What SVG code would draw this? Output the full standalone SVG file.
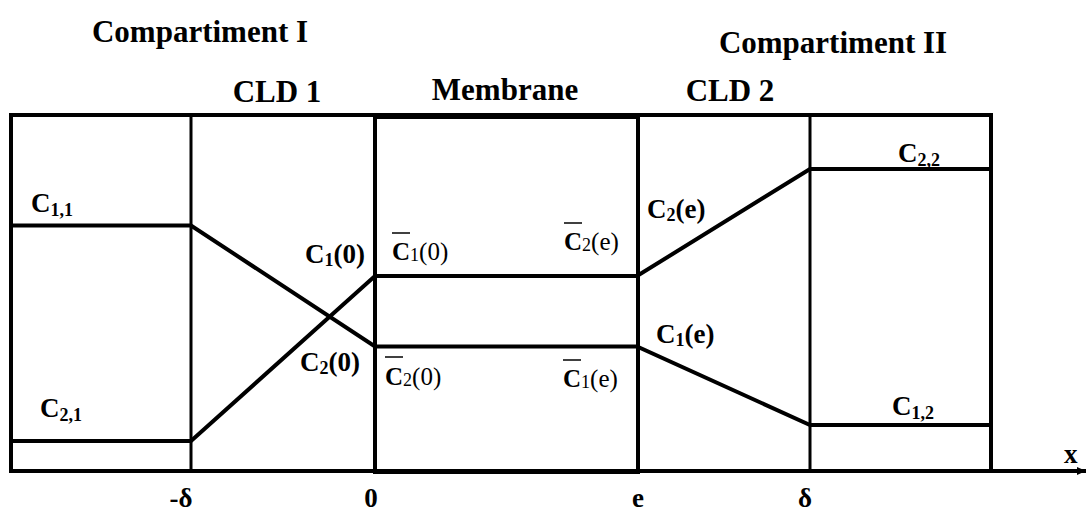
<svg xmlns="http://www.w3.org/2000/svg" width="1087" height="513" viewBox="0 0 1087 513">
<style>
  .frame{stroke:#000;stroke-width:4;fill:none;stroke-linecap:square}
  .thin{stroke:#000;stroke-width:3;fill:none}
  .conc{stroke:#000;stroke-width:4;fill:none;stroke-linecap:round}
  .hdr{font-family:"Liberation Serif","Times New Roman",serif;font-weight:bold;font-size:31px;fill:#000}
  .lb{font-family:"Liberation Serif","Times New Roman",serif;font-weight:bold;font-size:27px;fill:#000}
  .lr{font-family:"Liberation Serif","Times New Roman",serif;font-size:25px;fill:#000}
  .bar{stroke:#000;stroke-width:1.5}
</style>
<defs>
  <marker id="arr" markerWidth="10" markerHeight="10" refX="9" refY="5" orient="auto" markerUnits="userSpaceOnUse">
    <path d="M0,1 L9,5 L0,9 Z" fill="#000"/>
  </marker>
</defs>
<rect width="1087" height="513" fill="#fff"/>

<g id="headers">
  <text class="hdr" x="200" y="42" text-anchor="middle">Compartiment I</text>
  <text class="hdr" x="833" y="53" text-anchor="middle">Compartiment II</text>
  <text class="hdr" x="277" y="102" text-anchor="middle">CLD 1</text>
  <text class="hdr" x="505" y="100" text-anchor="middle">Membrane</text>
  <text class="hdr" x="730" y="101" text-anchor="middle">CLD 2</text>
</g>

<g id="frame">
  <line class="frame" x1="11" y1="115" x2="991" y2="115"/>
  <line class="frame" x1="11" y1="115" x2="11" y2="471"/>
  <line class="frame" x1="991" y1="115" x2="991" y2="471"/>
  <line class="thin" x1="191" y1="115" x2="191" y2="471"/>
  <line class="thin" x1="810" y1="115" x2="810" y2="469"/>
  <rect id="membrane" class="frame" x="375" y="117" width="263" height="355"/>
</g>

<g id="axis">
  <line x1="9" y1="471" x2="1086" y2="471" stroke="#000" stroke-width="4" marker-end="url(#arr)"/>
  <text class="lb" x="1064" y="463">x</text>
</g>

<g id="connectors">
  <polyline class="conc" points="11,225.5 191,225.5 375,346.5 637,346.5 810,425 991,425"/>
  <polyline class="conc" points="11,441 191,441 375,276 637,276 810,169 991,169"/>
</g>

<g id="labels-bulk">
  <text class="lb" x="31" y="212">C<tspan font-size="18" dy="4">1,1</tspan></text>
  <text class="lb" x="40" y="417">C<tspan font-size="18" dy="4">2,1</tspan></text>
  <text class="lb" x="898" y="162">C<tspan font-size="18" dy="4">2,2</tspan></text>
  <text class="lb" x="892" y="415">C<tspan font-size="18" dy="4">1,2</tspan></text>
</g>

<g id="labels-interface">
  <text class="lb" x="305" y="263">C<tspan font-size="18" dy="3">1</tspan><tspan dy="-3">(0)</tspan></text>
  <text class="lb" x="300" y="371">C<tspan font-size="18" dy="3">2</tspan><tspan dy="-3">(0)</tspan></text>
  <text class="lb" x="647" y="218">C<tspan font-size="18" dy="3">2</tspan><tspan dy="-3">(e)</tspan></text>
  <text class="lb" x="656" y="343">C<tspan font-size="18" dy="3">1</tspan><tspan dy="-3">(e)</tspan></text>
</g>

<g id="labels-membrane">
  <text class="lr" x="392" y="260"><tspan font-weight="bold">C</tspan><tspan font-size="18" dy="1">1</tspan><tspan dy="-1">(0)</tspan></text>
  <line class="bar" x1="392" y1="233" x2="410" y2="233"/>
  <text class="lr" x="564" y="250"><tspan font-weight="bold">C</tspan><tspan font-size="18" dy="1">2</tspan><tspan dy="-1">(e)</tspan></text>
  <line class="bar" x1="564" y1="223" x2="582" y2="223"/>
  <text class="lr" x="385" y="385"><tspan font-weight="bold">C</tspan><tspan font-size="18" dy="1">2</tspan><tspan dy="-1">(0)</tspan></text>
  <line class="bar" x1="385" y1="357" x2="403" y2="357"/>
  <text class="lr" x="563" y="387"><tspan font-weight="bold">C</tspan><tspan font-size="18" dy="1">1</tspan><tspan dy="-1">(e)</tspan></text>
  <line class="bar" x1="563" y1="360" x2="581" y2="360"/>
</g>

<g id="ticks">
  <text class="lb" x="181" y="507" text-anchor="middle">-δ</text>
  <text class="lb" x="371" y="507" text-anchor="middle">0</text>
  <text class="lb" x="638" y="507" text-anchor="middle">e</text>
  <text class="lb" x="805" y="507" text-anchor="middle">δ</text>
</g>
</svg>
